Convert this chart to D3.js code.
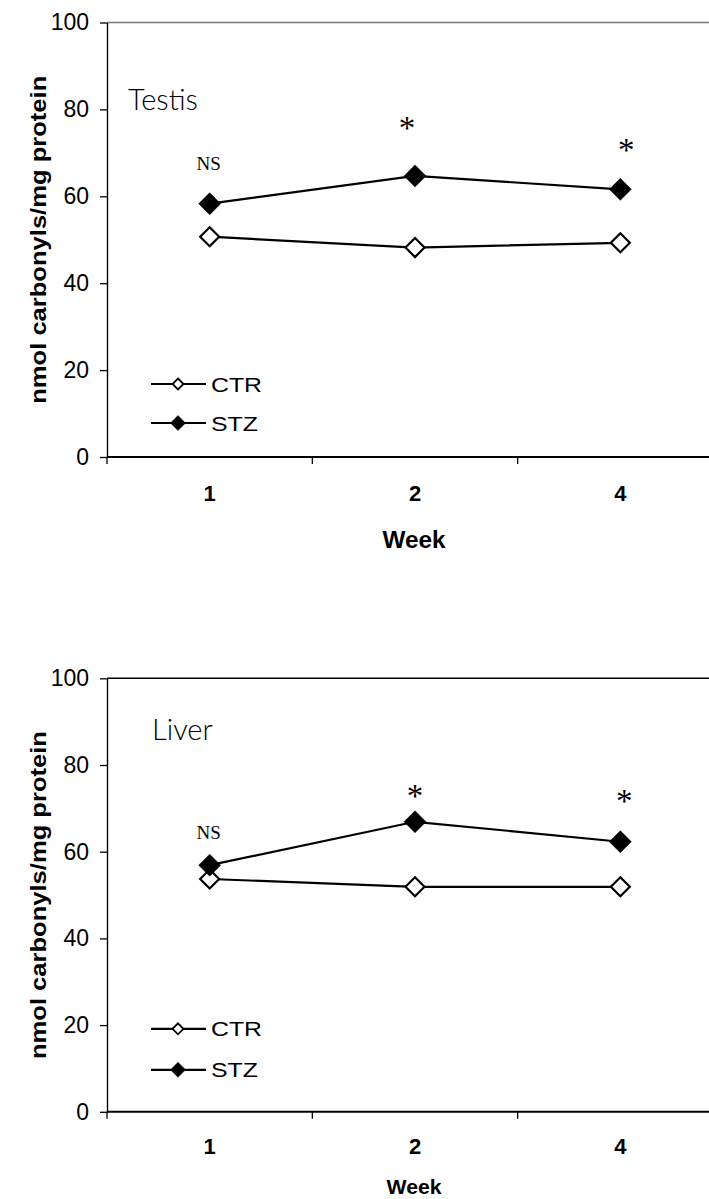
<!DOCTYPE html>
<html>
<head>
<meta charset="utf-8">
<script src="https://cdn.jsdelivr.net/npm/d3@7/dist/d3.min.js"></script>
<style>
  html, body { margin: 0; padding: 0; background: #fff; }
  svg { display: block; }
</style>
</head>
<body>
<svg id="chart" width="709" height="1199"></svg>
<script>
// Protein carbonyls (nmol/mg protein) in control and STZ-diabetic animals
const weeks = ["1", "2", "4"];
const yTicks = [0, 20, 40, 60, 80, 100];
const seriesNames = ["CTR", "STZ"];

const testisCTR = [50.7, 48.2, 49.3];
const testisSTZ = [58.3, 64.7, 61.6];
const testisSig = ["NS", "*", "*"];

const liverCTR = [53.7, 51.9, 51.9];
const liverSTZ = [56.9, 66.9, 62.3];
const liverSig = ["NS", "*", "*"];

const svg = d3.select("#chart");
svg.append("rect").attr("width", 709).attr("height", 1199).attr("fill", "#fff");

const SANS = "'Liberation Sans', Arial, sans-serif";
const SERIF = "'Liberation Serif', 'Times New Roman', serif";
const TITLE_FONT = "Lato, 'Noto Sans', sans-serif";

const panels = [
  {
    title: "Testis", ctr: testisCTR, stz: testisSTZ, sig: testisSig,
    top: 22.5, bottom: 457, frame: "#7a7a7a",
    titleX: 128, titleDy: 87.5,
    legendDy: [-73, -34],
    sigDx: [-1, -8, 6], sigDy: [40, 52, 43],
    tickLabelDy: 43.5, weekDy: 91, weekSize: 24, weekLen: 63
  },
  {
    title: "Liver", ctr: liverCTR, stz: liverSTZ, sig: liverSig,
    top: 678.3, bottom: 1111.8, frame: "#000",
    titleX: 152, titleDy: 61.7,
    legendDy: [-83, -42],
    sigDx: [-1, 0, 4], sigDy: [33, 30, 45],
    tickLabelDy: 42, weekDy: 82, weekSize: 21, weekLen: 55
  }
];

const left = 107, right = 723;
const legendTextLen = { CTR: 51, STZ: 47 };

function diamond(r) {
  return `M0,${-r}L${r},0L0,${r}L${-r},0Z`;
}

panels.forEach(p => {
  const g = svg.append("g");

  const x = d3.scaleBand().domain(weeks).range([left, right]).padding(0);
  const y = d3.scaleLinear().domain([0, 100]).range([p.bottom, p.top]);
  const cx = d => x(d) + x.bandwidth() / 2;

  // top frame line of the plot area
  g.append("line")
    .attr("x1", left).attr("x2", right)
    .attr("y1", y(100)).attr("y2", y(100))
    .attr("stroke", p.frame).attr("stroke-width", 1.6);

  // y axis
  const yAxis = g.append("g")
    .attr("transform", `translate(${left},0)`)
    .call(d3.axisLeft(y).tickValues(yTicks).tickSize(7).tickSizeOuter(0).tickPadding(11));
  yAxis.select(".domain").attr("stroke", "#000").attr("stroke-width", 1.4);
  yAxis.selectAll(".tick line").attr("stroke", "#000").attr("stroke-width", 1.3);
  yAxis.selectAll(".tick text")
    .attr("font-family", SANS).attr("font-size", 23).attr("fill", "#000");

  // x axis: line, tick marks between categories, bold category labels
  g.append("line")
    .attr("x1", left).attr("x2", right)
    .attr("y1", y(0)).attr("y2", y(0))
    .attr("stroke", "#000").attr("stroke-width", 2);
  const boundaries = weeks.map(d => x(d));
  g.selectAll(".xtick").data(boundaries).join("line")
    .attr("class", "xtick")
    .attr("x1", d => d).attr("x2", d => d)
    .attr("y1", y(0)).attr("y2", y(0) + 7)
    .attr("stroke", "#000").attr("stroke-width", 1.3);
  g.selectAll(".xlabel").data(weeks).join("text")
    .attr("class", "xlabel")
    .attr("x", d => cx(d)).attr("y", y(0) + p.tickLabelDy)
    .attr("text-anchor", "middle")
    .attr("font-family", SANS).attr("font-weight", "bold").attr("font-size", 22)
    .text(d => d);

  // axis titles
  g.append("text")
    .attr("x", 414).attr("y", y(0) + p.weekDy)
    .attr("text-anchor", "middle")
    .attr("font-family", SANS).attr("font-weight", "bold").attr("font-size", p.weekSize)
    .attr("textLength", p.weekLen).attr("lengthAdjust", "spacingAndGlyphs")
    .text("Week");
  g.append("text")
    .attr("transform", `translate(46,${(p.top + p.bottom) / 2}) rotate(-90)`)
    .attr("text-anchor", "middle")
    .attr("font-family", SANS).attr("font-weight", "bold").attr("font-size", 22)
    .attr("textLength", 328).attr("lengthAdjust", "spacingAndGlyphs")
    .text("nmol carbonyls/mg protein");

  // panel title
  g.append("text")
    .attr("x", p.titleX).attr("y", p.top + p.titleDy)
    .attr("font-family", TITLE_FONT).attr("font-weight", 300).attr("font-size", 29)
    .text(p.title);

  // series lines and markers
  const line = d3.line().x((d, i) => cx(weeks[i])).y(d => y(d));
  [p.ctr, p.stz].forEach((vals, si) => {
    g.append("path").datum(vals)
      .attr("d", line).attr("fill", "none")
      .attr("stroke", "#000").attr("stroke-width", 2.2);
    g.selectAll(`.m${si}`).data(vals).join("path")
      .attr("class", `m${si}`)
      .attr("transform", (d, i) => `translate(${cx(weeks[i])},${y(d)})`)
      .attr("d", si === 0 ? diamond(9.5) : diamond(11))
      .attr("fill", si === 0 ? "#fff" : "#000")
      .attr("stroke", "#000").attr("stroke-width", si === 0 ? 2.2 : 0.5);
  });

  // significance marks above the STZ points
  p.sig.forEach((s, i) => {
    const px = cx(weeks[i]) + p.sigDx[i];
    const py = y(p.stz[i]) - p.sigDy[i];
    if (s === "*") {
      g.append("text")
        .attr("x", px).attr("y", py + 15)
        .attr("text-anchor", "middle")
        .attr("font-family", SERIF).attr("font-size", 33)
        .text(s);
    } else {
      g.append("text")
        .attr("x", px).attr("y", py + 6.5)
        .attr("text-anchor", "middle")
        .attr("font-family", SERIF).attr("font-size", 19)
        .text(s);
    }
  });

  // legend
  seriesNames.forEach((name, si) => {
    const ly = y(0) + p.legendDy[si];
    g.append("line")
      .attr("x1", 151).attr("x2", 206)
      .attr("y1", ly).attr("y2", ly)
      .attr("stroke", "#000").attr("stroke-width", 2.2);
    g.append("path")
      .attr("transform", `translate(178,${ly})`)
      .attr("d", si === 0 ? diamond(5.5) : diamond(7.5))
      .attr("fill", si === 0 ? "#fff" : "#000")
      .attr("stroke", "#000").attr("stroke-width", si === 0 ? 1.8 : 0.5);
    g.append("text")
      .attr("x", 211).attr("y", ly + 7.5)
      .attr("font-family", SANS).attr("font-size", 21)
      .attr("textLength", legendTextLen[name]).attr("lengthAdjust", "spacingAndGlyphs")
      .text(name);
  });
});
</script>
</body>
</html>
